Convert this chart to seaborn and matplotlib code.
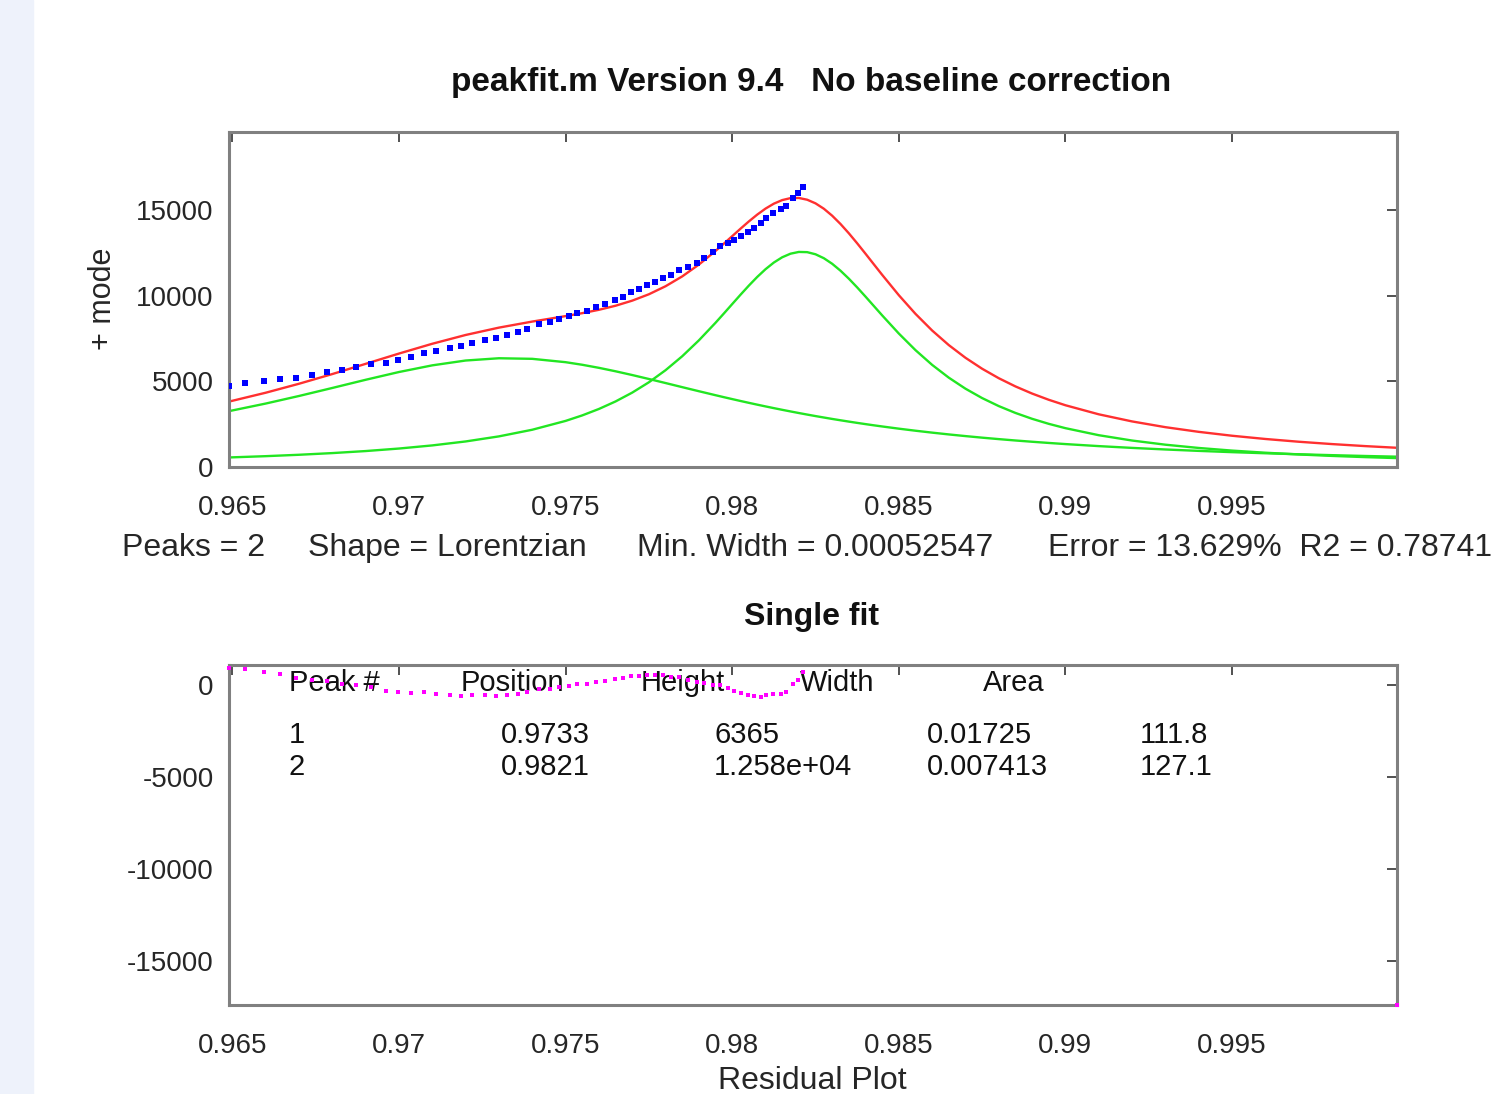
import matplotlib
matplotlib.use("Agg")
import matplotlib.pyplot as plt
import seaborn as sns
from matplotlib.patches import Rectangle

# measured data (blue dots)
data_x = [0.964895, 0.965376, 0.965947, 0.966427, 0.966908, 0.967389, 0.967840, 0.968291,
          0.968711, 0.969162, 0.969613, 0.969973, 0.970364, 0.970754, 0.971115, 0.971536,
          0.971866, 0.972197, 0.972588, 0.972918, 0.973249, 0.973579, 0.973850, 0.974211,
          0.974541, 0.974811, 0.975112, 0.975352, 0.975653, 0.975923, 0.976194, 0.976494,
          0.976735, 0.976975, 0.977215, 0.977456, 0.977696, 0.977937, 0.978177, 0.978417,
          0.978688, 0.978958, 0.979169, 0.979439, 0.979649, 0.979860, 0.980040, 0.980250,
          0.980461, 0.980641, 0.980851, 0.981002, 0.981212, 0.981453, 0.981603, 0.981814,
          0.981964, 0.982114]
data_y = [4731, 4906, 5023, 5140, 5198, 5374, 5549, 5666, 5841, 6016, 6075, 6250, 6425, 6659,
          6776, 6951, 7068, 7243, 7418, 7535, 7710, 7885, 8061, 8353, 8469, 8645, 8820, 8995,
          9112, 9346, 9521, 9754, 9930, 10222, 10397, 10631, 10806, 11039, 11215, 11507, 11682,
          11916, 12208, 12558, 12909, 13084, 13259, 13493, 13726, 13960, 14252, 14544, 14836,
          15070, 15245, 15713, 16005, 16355]

# fitted model (red = total, green = single peaks)
model_x = [0.9649, 0.965, 0.966, 0.967, 0.968, 0.969, 0.970, 0.971, 0.972, 0.973, 0.974, 0.975,
           0.9755, 0.976, 0.9765, 0.977, 0.9775, 0.978, 0.9785, 0.979, 0.9795, 0.97975, 0.980,
           0.98025, 0.9805, 0.98075, 0.981, 0.98125, 0.9815, 0.98175, 0.982, 0.98225, 0.9825,
           0.98275, 0.983, 0.98325, 0.9835, 0.98375, 0.984, 0.98425, 0.9845, 0.985, 0.9855,
           0.986, 0.9865, 0.987, 0.9875, 0.988, 0.9885, 0.989, 0.9895, 0.990, 0.991, 0.992,
           0.993, 0.994, 0.995, 0.996, 0.997, 0.998, 0.999, 1.000]
model_total = [3825, 3870, 4341, 4866, 5433, 6030, 6631, 7204, 7717, 8147, 8501, 8821, 8992,
               9189, 9427, 9724, 10097, 10566, 11141, 11832, 12628, 13055, 13493, 13930, 14355,
               14752, 15104, 15393, 15602, 15717, 15726, 15624, 15412, 15098, 14690, 14206,
               13663, 13078, 12469, 11850, 11234, 10044, 8953, 7979, 7126, 6385, 5744, 5190,
               4710, 4293, 3929, 3610, 3080, 2664, 2328, 2055, 1827, 1638, 1477, 1340, 1221,
               1118]
peak1 = [3267, 3305, 3708, 4151, 4620, 5098, 5552, 5942, 6224, 6357, 6323, 6127, 5976, 5797,
         5595, 5376, 5145, 4908, 4668, 4430, 4197, 4082, 3970, 3859, 3751, 3645, 3542, 3441,
         3343, 3248, 3155, 3065, 2977, 2893, 2810, 2731, 2654, 2579, 2507, 2437, 2370, 2241,
         2121, 2009, 1904, 1807, 1715, 1630, 1550, 1476, 1406, 1340, 1221, 1117, 1024, 942,
         868, 803, 744, 692, 644, 601]
peak2 = [558, 565, 633, 715, 813, 932, 1079, 1262, 1493, 1790, 2178, 2694, 3016, 3392, 3832,
         4348, 4952, 5658, 6473, 7402, 8431, 8973, 9523, 10071, 10604, 11107, 11562, 11952,
         12259, 12469, 12571, 12559, 12435, 12205, 11880, 11475, 11009, 10499, 9962, 9413,
         8864, 7803, 6832, 5970, 5222, 4578, 4029, 3560, 3160, 2817, 2523, 2270, 1859, 1547,
         1304, 1113, 959, 835, 733, 648, 577, 517]

# residuals (magenta)
resid_x = data_x + [0.99995]
resid_y = [906, 859, 707, 575, 380, 287, 207, 59, -16, -111, -323, -365, -415, -404, -487,
           -528, -580, -559, -552, -577, -525, -467, -387, -216, -205, -116, -39, 54, 60, 187,
           240, 330, 363, 513, 513, 567, 525, 532, 445, 461, 281, 142, 107, 27, 23, -167, -303,
           -431, -562, -606, -629, -562, -479, -485, -383, 33, 288, 701, -17400]

x_ticks = [0.965, 0.97, 0.975, 0.98, 0.985, 0.99, 0.995]
x_labels = ['0.965', '0.97', '0.975', '0.98', '0.985', '0.99', '0.995']
top_yticks = [0, 5000, 10000, 15000]
bot_yticks = [-15000, -10000, -5000, 0]

table_header = ['Peak #', 'Position', 'Height', 'Width', 'Area']
table_rows = [['1', '0.9733', '6365', '0.01725', '111.8'],
              ['2', '0.9821', '1.258e+04', '0.007413', '127.1']]

sns.set_theme(style="white")
plt.rcParams['font.family'] = ['Liberation Sans', 'DejaVu Sans']
plt.rcParams['axes.unicode_minus'] = False

W, H = 1493, 1094
fig = plt.figure(figsize=(W / 100, H / 100), dpi=100)
fig.patches.append(Rectangle((0, 0), 33 / W, 1, transform=fig.transFigure,
                             color='#eef2fb', zorder=0))

ax1 = fig.add_axes([229 / W, 1 - 467 / H, 1168 / W, 335.3 / H])
ax2 = fig.add_axes([229 / W, 1 - 1005 / H, 1168 / W, 340 / H])

# top panel
sns.lineplot(x=model_x, y=peak1, color='#22e622', lw=1.7, ax=ax1, legend=False)
sns.lineplot(x=model_x, y=peak2, color='#22e622', lw=1.7, ax=ax1, legend=False)
sns.lineplot(x=model_x, y=model_total, color='#ff3030', lw=1.7, ax=ax1, legend=False)
sns.scatterplot(x=data_x, y=data_y, marker='s', s=14, color='#0000ff', linewidth=0,
                ax=ax1, legend=False, zorder=5)
ax1.set_ylim(0, 19600)
ax1.set_yticks(top_yticks)
ax1.set_yticklabels([str(v) for v in top_yticks])

# bottom panel
sns.scatterplot(x=resid_x, y=resid_y, marker='s', s=8, color='#ff00ff', linewidth=0,
                ax=ax2, legend=False, zorder=5, clip_on=False)
ax2.set_ylim(-17400, 1090)
ax2.set_yticks(bot_yticks)
ax2.set_yticklabels([str(v) for v in bot_yticks])

for ax in (ax1, ax2):
    ax.set_xlim(0.9649, 0.99995)
    ax.set_xticks(x_ticks)
    ax.set_xticklabels(x_labels)
    ax.tick_params(direction='in', top=True, right=True, length=7, width=1.1,
                   color='#222222', labelsize=20, labelcolor='#262626')
    ax.tick_params(axis='x', pad=20)
    ax.tick_params(axis='y', pad=11)
    for s in ax.spines.values():
        s.set_color('#808080')
        s.set_linewidth(2.2)
    ax.set_xlabel('')
    ax.set_ylabel('')

# text
fig.text(811 / W, 1 - 82 / H, 'peakfit.m Version 9.4   No baseline correction',
         ha='center', va='center', fontsize=24, fontweight='bold', color='#111111')
fig.text(103 / W, 1 - 299 / H, '+ mode', rotation=90, ha='center', va='center',
         fontsize=22, color='#262626')
info = [(122, 'Peaks = 2'), (308, 'Shape = Lorentzian'), (637, 'Min. Width = 0.00052547'),
        (1048, 'Error = 13.629%  R2 = 0.78741')]
for px, t in info:
    fig.text(px / W, 1 - 548 / H, t, ha='left', va='center', fontsize=23, color='#262626')
fig.text(812 / W, 1 - 617 / H, 'Single fit', ha='center', va='center', fontsize=23,
         fontweight='bold', color='#111111')
fig.text(812 / W, 1 - 1081 / H, 'Residual Plot', ha='center', va='center', fontsize=23,
         color='#262626')

head_px = [289, 461, 641, 800, 983]
row_px = [289, 501, 714, 927, 1140]
for px, t in zip(head_px, table_header):
    ax2.text((px - 229) / 1168, (1005 - 683) / 340, t, transform=ax2.transAxes,
             ha='left', va='center', fontsize=21, color='#111111')
for py, row in zip([735, 767], table_rows):
    for px, t in zip(row_px, row):
        ax2.text((px - 229) / 1168, (1005 - py) / 340, t, transform=ax2.transAxes,
                 ha='left', va='center', fontsize=21, color='#111111')

fig.savefig('out.png', dpi=100)
